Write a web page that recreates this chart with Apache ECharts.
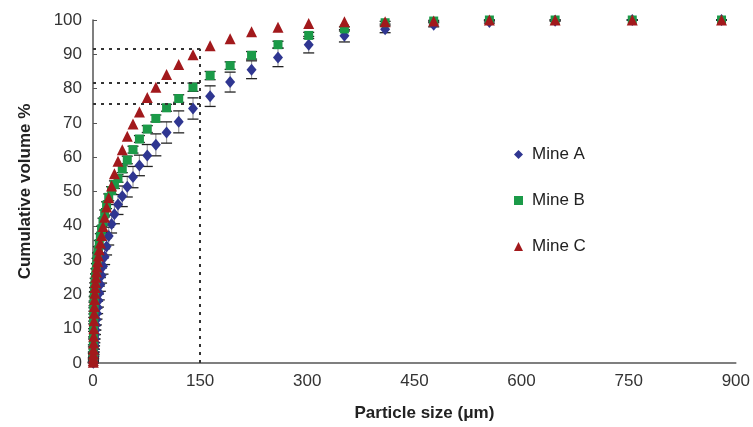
<!DOCTYPE html>
<html>
<head>
<meta charset="utf-8">
<script src="https://cdn.jsdelivr.net/npm/echarts@6/dist/echarts.min.js"></script>
<style>
html, body { margin: 0; padding: 0; background: #fff; }
#chart { width: 753px; height: 427px; }
</style>
</head>
<body>
<div id="chart"></div>
<script>
// particle size classes (µm)
var sizes = [0.41, 0.48, 0.56, 0.65, 0.76, 0.88, 1.03, 1.2, 1.4, 1.64, 1.9, 2.2, 2.6, 3.0, 3.5, 4.1, 4.8, 5.6, 6.5, 7.6, 8.8,
    10.3, 12, 14, 16.3, 19, 22, 26, 30, 35, 41, 48, 56, 65, 76, 88, 103, 120, 140, 164, 192, 222, 259, 302, 352, 409,
    477, 555, 647, 755, 880]

// cumulative volume %
var mineA = [0.1, 0.2, 0.4, 0.7, 1.1, 1.5, 2.0, 2.6, 3.3, 4.1, 5.0, 6.0, 7.1, 8.3, 9.6, 11.1, 12.7, 14.4, 16.2, 18.2, 20.4,
    22.9, 25.5, 28.2, 31.0, 34.0, 37.0, 40.5, 43.4, 46.2, 48.6, 51.4, 54.2, 57.6, 60.5, 63.6, 67.2, 70.3, 74.2, 77.8, 81.9,
    85.5, 89.1, 92.8, 95.4, 97.3, 98.6, 99.4, 99.8, 100, 100]
var mineB = [1.4, 3.0, 5.0, 7.3, 9.6, 11.8, 13.8, 15.6, 17.2, 18.7, 20.1, 21.4, 22.7, 24.0, 25.3, 26.7, 28.2, 29.7, 31.3, 33.0, 34.8,
    36.8, 39.0, 41.2, 43.6, 46.0, 48.3, 50.3, 52.0, 53.8, 56.6, 59.2, 62.2, 65.3, 68.2, 71.3, 74.4, 77.1, 80.4, 83.8, 86.7,
    89.7, 92.8, 95.5, 97.4, 99.2, 99.7, 100, 100, 100, 100]
var mineC = [0.2, 0.7, 1.5, 2.6, 4.0, 5.8, 7.8, 10.0, 12.3, 14.5, 16.5, 18.5, 20.3, 22.0, 23.5, 25.0, 26.5, 28.0, 29.5, 31.2, 33.0,
    35.0, 37.2, 39.8, 42.5, 45.5, 48.2, 51.6, 55.2, 58.8, 62.2, 66.1, 69.7, 73.2, 77.4, 80.4, 84.1, 87.0, 89.9, 92.5, 94.5,
    96.6, 97.9, 99.0, 99.5, 99.5, 99.7, 100, 100, 100, 100]

// standard deviations
var errA = [0.1, 0.1, 0.2, 0.3, 0.3, 0.5, 0.6, 0.6, 0.8, 0.9, 1.0, 1.0, 1.2, 1.3, 1.3, 1.5, 1.6, 1.6, 1.8, 1.9, 2.0,
    2.0, 2.2, 2.3, 2.3, 2.5, 2.6, 2.6, 2.8, 2.9, 3.0, 3.0, 3.1, 3.0, 3.2, 3.2, 3.1, 3.2, 3.1, 3.0, 2.9,
    2.6, 2.7, 2.4, 1.8, 1.0, 0.6, 0.3, 0.2, 0, 0]
var errB = [0.2, 0.2, 0.3, 0.3, 0.4, 0.4, 0.5, 0.5, 0.5, 0.6, 0.6, 0.6, 0.7, 0.7, 0.7, 0.8, 0.8, 0.8, 0.8, 0.9, 0.9,
    0.9, 0.9, 1.0, 1.0, 1.0, 1.0, 1.1, 1.1, 1.1, 1.1, 1.1, 1.0, 1.0, 1.0, 1.0, 1.0, 1.1, 1.2, 1.2, 1.1,
    1.1, 1.0, 0.9, 0.6, 0.4, 0.2, 0, 0, 0, 0]

// reading lines at 150 µm
var refSize = 150
var refLevels = [91.6, 81.7, 75.5]

function points(vals) {
    return sizes.map(function (x, i) { return [x, vals[i]] })
}

function errorBars(name, vals, errs) {
    return {
        name: name,
        type: 'custom',
        z: 1,
        silent: true,
        encode: { x: 0, y: [1, 2] },
        data: sizes.map(function (x, i) { return [x, vals[i] - errs[i], vals[i] + errs[i]] }),
        renderItem: function (params, api) {
            var lo = api.coord([api.value(0), api.value(1)])
            var hi = api.coord([api.value(0), api.value(2)])
            var w = 5.5
            return {
                type: 'group',
                children: [
                    { type: 'line', shape: { x1: lo[0], y1: lo[1], x2: hi[0], y2: hi[1] }, style: { stroke: '#999', lineWidth: 1.2 } },
                    { type: 'line', shape: { x1: lo[0] - w, y1: lo[1], x2: lo[0] + w, y2: lo[1] }, style: { stroke: '#222', lineWidth: 1.3 } },
                    { type: 'line', shape: { x1: hi[0] - w, y1: hi[1], x2: hi[0] + w, y2: hi[1] }, style: { stroke: '#222', lineWidth: 1.3 } }
                ]
            }
        }
    }
}

var refLines = []
refLevels.forEach(function (v) {
    refLines.push([{ coord: [0, v] }, { coord: [refSize, v] }])
})
refLines.push([{ coord: [refSize, 0] }, { coord: [refSize, refLevels[0]] }])

var myChart = echarts.init(document.getElementById('chart'))
myChart.setOption({
    animation: false,
    grid: { left: 93, right: 16, top: 20, bottom: 61 },
    legend: {
        orient: 'vertical',
        left: 509,
        top: 141,
        itemWidth: 9,
        itemHeight: 9,
        itemGap: 29,
        textStyle: { fontFamily: 'Liberation Sans', fontSize: 17, color: '#222', lineHeight: 17, padding: [0, 0, 0, 4] },
        data: ['Mine A', 'Mine B', 'Mine C']
    },
    xAxis: {
        type: 'value',
        min: 0,
        max: 900,
        interval: 150,
        name: 'Particle size (\u03bcm)',
        nameLocation: 'middle',
        nameGap: 42,
        nameTextStyle: { fontFamily: 'Liberation Sans', fontSize: 17, fontWeight: 'bold', color: '#222', padding: [0, 0, 0, 20] },
        axisLine: { lineStyle: { color: '#555', width: 1.5 } },
        axisTick: { show: false },
        splitLine: { show: false },
        axisLabel: { fontFamily: 'Liberation Sans', fontSize: 17, color: '#333', margin: 10 }
    },
    yAxis: {
        type: 'value',
        min: 0,
        max: 100,
        interval: 10,
        name: 'Cumulative volume %',
        nameLocation: 'middle',
        nameGap: 59,
        nameTextStyle: { fontFamily: 'Liberation Sans', fontSize: 17, fontWeight: 'bold', color: '#222' },
        axisLine: { show: true, lineStyle: { color: '#555', width: 1.5 } },
        axisTick: { show: true, inside: true, length: 4, lineStyle: { color: '#555' } },
        splitLine: { show: false },
        axisLabel: { fontFamily: 'Liberation Sans', fontSize: 17, color: '#333', margin: 11 }
    },
    series: [
        errorBars('errA', mineA, errA),
        errorBars('errB', mineB, errB),
        {
            name: 'Mine A',
            type: 'scatter',
            z: 2,
            symbol: 'diamond',
            symbolSize: [10, 12],
            itemStyle: { color: '#2f3691', opacity: 1 },
            data: points(mineA),
            markLine: {
                silent: true,
                symbol: 'none',
                label: { show: false },
                lineStyle: { color: '#333', type: [3, 5], width: 2 },
                data: refLines
            }
        },
        {
            name: 'Mine B',
            type: 'scatter',
            z: 3,
            symbol: 'rect',
            symbolSize: 9,
            itemStyle: { color: '#1b9a48', opacity: 1 },
            data: points(mineB)
        },
        {
            name: 'Mine C',
            type: 'scatter',
            z: 4,
            symbol: 'triangle',
            symbolSize: [11, 11],
            itemStyle: { color: '#a2191c', opacity: 1 },
            data: points(mineC)
        }
    ]
})
</script>
</body>
</html>
